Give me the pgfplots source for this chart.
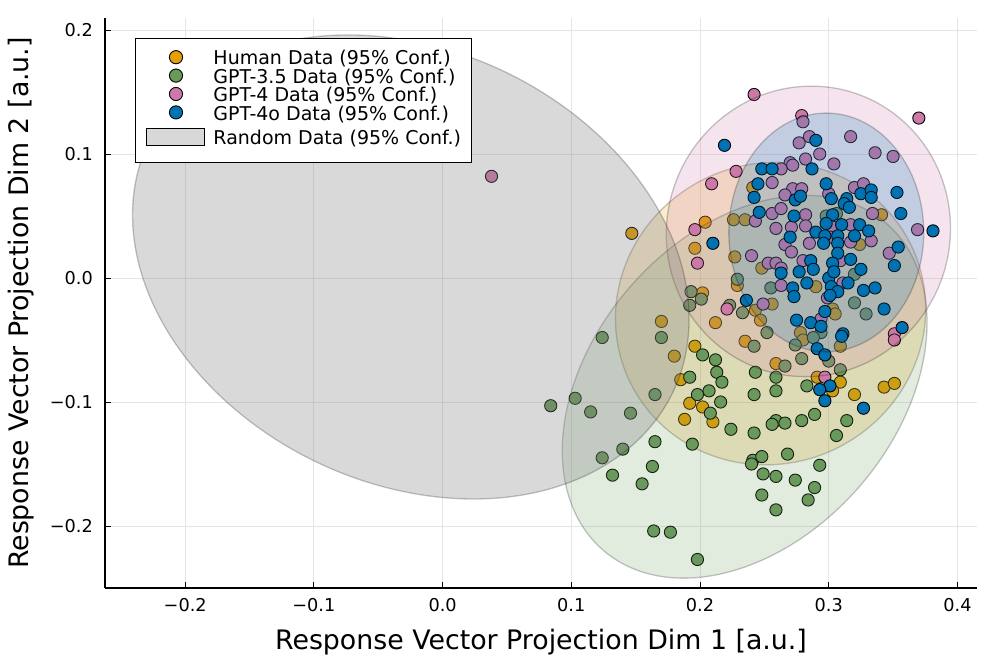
\documentclass[border=0pt]{standalone}
\usepackage{fontspec}
\setmainfont{DejaVu Sans}
\usepackage{pgfplots}
\pgfplotsset{compat=1.18}
\definecolor{cHuman}{RGB}{230,159,0}
\definecolor{cGa}{RGB}{106,153,92}
\definecolor{cGb}{RGB}{204,121,167}
\definecolor{cGc}{RGB}{0,114,178}
\definecolor{cRand}{RGB}{128,128,128}
% cx, cy, ax, ay, by, colour, opacity
\newcommand{\confellipse}[7]{%
 \pgfplotsextra{%
  \begin{pgfscope}%
  \pgfpathellipse{\pgfplotspointaxisxy{#1}{#2}}{\pgfplotspointaxisdirectionxy{#3}{#4}}{\pgfplotspointaxisdirectionxy{0}{#5}}%
  \pgfsetfillcolor{#6}\pgfsetfillopacity{#7}%
  \pgfsetstrokecolor{black}\pgfsetstrokeopacity{0.22}\pgfsetlinewidth{1.3pt}%
  \pgfusepath{fill,stroke}%
  \end{pgfscope}}}
\begin{document}
\begin{tikzpicture}
\begin{axis}[name=ax,
 width=872pt, height=570pt, scale only axis,
 xmin=-0.2623, xmax=0.4152, ymin=-0.25, ymax=0.2097,
 clip marker paths=true,
 axis x line*=bottom, axis y line*=left,
 axis line style={line width=1.1pt, black},
 tick align=inside, major tick length=6pt,
 tick style={line width=1pt, black},
 xtick={-0.2,-0.1,0,0.1,0.2,0.3,0.4},
 xticklabels={−0.2,−0.1,0.0,0.1,0.2,0.3,0.4},
 ytick={-0.2,-0.1,0,0.1,0.2},
 yticklabels={−0.2,−0.1,0.0,0.1,0.2},
 ticklabel style={font=\fontsize{17.7}{18}\selectfont},
 xticklabel style={inner sep=0pt, anchor=north, yshift=-10pt},
 yticklabel style={inner sep=0pt, anchor=east, xshift=-12pt},
 grid=major, major grid style={line width=0.8pt, black!10},
 xlabel={Response Vector Projection Dim 1 [a.u.]},
 ylabel={Response Vector Projection Dim 2 [a.u.]},
 label style={font=\fontsize{26.8}{28}\selectfont, inner sep=0pt},
 xlabel style={at={(axis description cs:0.5,-0.0719)}, anchor=north},
 ylabel style={at={(axis description cs:-0.1112,0.5)}, anchor=north},
 legend cell align=left,
 legend style={at={(axis description cs:0.0344,0.9649)}, anchor=north west,
   draw=black, line width=1pt, fill=white, font=\fontsize{19}{20}\selectfont,
   inner xsep=11pt, inner ysep=9.5pt, nodes={inner sep=0pt},
   /tikz/every odd column/.append style={column sep=8pt},
   /tikz/every even column/.append style={text height=16.9pt, text depth=3.1pt}},
 legend image code/.code={\path (0pt,0pt) (58pt,0pt);
   \draw[mark repeat=2,mark phase=2,#1,mark size=6.6pt] plot coordinates {(0pt,0pt) (29pt,0pt) (58pt,0pt)};},
 scatter style/.style={only marks, mark=*, mark size=6.1pt,
   mark options={draw=black, line width=0.9pt, fill=#1}},
]
% ---------------- Human
\addplot[scatter style=cHuman] coordinates {
(0.147,0.036) (0.204,0.045) (0.196,0.024) (0.226,0.047) (0.235,0.047)
(0.241,0.073) (0.227,0.017) (0.248,0.008) (0.229,-0.006) (0.202,-0.012)
(0.243,-0.026) (0.247,-0.034) (0.256,-0.021) (0.170,-0.035) (0.212,-0.036)
(0.235,-0.051) (0.196,-0.055) (0.180,-0.063) (0.185,-0.082) (0.192,-0.101)
(0.202,-0.104) (0.188,-0.114) (0.210,-0.116) (0.259,-0.069) (0.290,-0.007)
(0.303,-0.025) (0.305,-0.029) (0.278,-0.044) (0.280,-0.050) (0.309,-0.055)
(0.291,-0.080) (0.309,-0.084) (0.303,-0.091) (0.320,-0.094) (0.343,-0.088)
(0.351,-0.085) (0.341,0.051) (0.324,0.027)
};
\addlegendentry{Human Data (95\% Conf.)}
\confellipse{0.2548}{-0.0287}{0.1205}{0.0040}{0.1219}{cHuman}{0.2}
% ---------------- GPT-3.5
\addplot[scatter style=cGa] coordinates {
(0.084,-0.103) (0.103,-0.097) (0.115,-0.108) (0.124,-0.048) (0.124,-0.145)
(0.132,-0.159) (0.140,-0.138) (0.146,-0.109) (0.193,-0.011) (0.201,-0.017)
(0.192,-0.022) (0.223,-0.022) (0.229,-0.001) (0.233,-0.028) (0.255,-0.008)
(0.252,-0.044) (0.170,-0.048) (0.242,-0.055) (0.202,-0.062) (0.212,-0.066)
(0.213,-0.076) (0.217,-0.084) (0.243,-0.076) (0.192,-0.080) (0.165,-0.094)
(0.207,-0.091) (0.198,-0.094) (0.216,-0.100) (0.242,-0.094) (0.208,-0.109)
(0.259,-0.115) (0.259,-0.080) (0.259,-0.091) (0.224,-0.122) (0.242,-0.125)
(0.256,-0.118) (0.165,-0.132) (0.194,-0.134) (0.163,-0.152) (0.155,-0.166)
(0.241,-0.147) (0.248,-0.144) (0.240,-0.150) (0.249,-0.158) (0.259,-0.160)
(0.248,-0.175) (0.259,-0.187) (0.164,-0.204) (0.177,-0.205) (0.198,-0.227)
(0.266,-0.117) (0.279,-0.115) (0.314,-0.115) (0.306,-0.127) (0.268,-0.142)
(0.293,-0.151) (0.274,-0.163) (0.289,-0.169) (0.284,-0.179) (0.320,0.003)
(0.320,-0.020) (0.329,-0.029) (0.294,-0.044) (0.288,-0.048) (0.274,-0.054)
(0.300,-0.067) (0.279,-0.065) (0.266,-0.071) (0.309,-0.074) (0.283,-0.087)
(0.289,-0.110) (0.298,0.050) (0.306,0.052)
};
\addlegendentry{GPT-3.5 Data (95\% Conf.)}
\confellipse{0.2347}{-0.0877}{0.1417}{0.0517}{0.1454}{cGa}{0.2}
% ---------------- GPT-4
\addplot[scatter style=cGb] coordinates {
(0.038,0.082) (0.242,0.148) (0.228,0.086) (0.209,0.076) (0.256,0.077)
(0.256,0.052) (0.243,0.046) (0.259,0.040) (0.196,0.039) (0.279,0.131)
(0.280,0.126) (0.370,0.129) (0.285,0.114) (0.277,0.109) (0.317,0.114)
(0.293,0.100) (0.336,0.101) (0.350,0.098) (0.282,0.096) (0.270,0.093)
(0.263,0.088) (0.272,0.091) (0.304,0.092) (0.320,0.073) (0.327,0.076)
(0.334,0.052) (0.369,0.039) (0.272,0.072) (0.279,0.072) (0.266,0.067)
(0.300,0.068) (0.263,0.056) (0.282,0.051) (0.282,0.042) (0.303,0.041)
(0.317,0.043) (0.271,0.041) (0.301,0.033) (0.266,0.027) (0.285,0.028)
(0.317,0.029) (0.333,0.030) (0.198,0.012) (0.240,0.018) (0.253,0.012)
(0.259,0.012) (0.221,-0.025) (0.249,-0.021) (0.271,0.021) (0.347,0.020)
(0.309,0.014) (0.280,0.014) (0.263,0.008) (0.263,-0.006) (0.311,-0.004)
(0.299,-0.016) (0.294,-0.033) (0.351,-0.045) (0.351,-0.050) (0.297,-0.080)
};
\addlegendentry{GPT-4 Data (95\% Conf.)}
\confellipse{0.2842}{0.0376}{0.1104}{0.0024}{0.1171}{cGb}{0.2}
% ---------------- GPT-4o
\addplot[scatter style=cGc] coordinates {
(0.219,0.107) (0.248,0.088) (0.256,0.088) (0.245,0.076) (0.242,0.065)
(0.246,0.053) (0.210,0.028) (0.290,0.111) (0.287,0.088) (0.298,0.076)
(0.325,0.068) (0.333,0.071) (0.333,0.065) (0.353,0.069) (0.356,0.052)
(0.381,0.038) (0.274,0.063) (0.278,0.066) (0.302,0.064) (0.314,0.064)
(0.312,0.060) (0.316,0.057) (0.303,0.051) (0.273,0.050) (0.298,0.044)
(0.310,0.043) (0.324,0.043) (0.331,0.038) (0.290,0.037) (0.320,0.034)
(0.297,0.034) (0.307,0.034) (0.270,0.033) (0.296,0.028) (0.307,0.028)
(0.354,0.025) (0.236,-0.018) (0.307,0.020) (0.317,0.015) (0.303,0.012)
(0.286,0.014) (0.277,0.005) (0.288,0.007) (0.263,0.004) (0.351,0.010)
(0.325,0.007) (0.300,0.000) (0.304,0.005) (0.283,-0.004) (0.272,-0.008)
(0.273,-0.015) (0.315,-0.004) (0.302,-0.007) (0.307,-0.011) (0.301,-0.014)
(0.327,-0.010) (0.336,-0.008) (0.343,-0.025) (0.297,-0.027) (0.275,-0.034)
(0.286,-0.036) (0.294,-0.039) (0.311,-0.045) (0.310,-0.047) (0.357,-0.040)
(0.291,-0.057) (0.297,-0.062) (0.301,-0.087) (0.293,-0.090) (0.297,-0.099)
(0.327,-0.105)
};
\addlegendentry{GPT-4o Data (95\% Conf.)}
\confellipse{0.2981}{0.0368}{0.0757}{0.0}{0.0962}{cGc}{0.2}
% ---------------- Random (ellipse only)
\confellipse{-0.0247}{0.0089}{0.2162}{-0.0420}{0.1823}{cRand}{0.3}
\addlegendimage{legend image code/.code={%
   \draw[fill=cRand, fill opacity=0.3, draw=black, line width=1pt] (0pt,-8.5pt) rectangle (58pt,8.5pt);
   \path (0pt,-15pt) (0pt,15pt);}}
\addlegendentry{Random Data (95\% Conf.)}
\end{axis}
\pgfresetboundingbox
\path ([xshift=-105pt,yshift=-76pt]ax.south west) rectangle ([xshift=20pt,yshift=18pt]ax.north east);
\end{tikzpicture}
\end{document}
